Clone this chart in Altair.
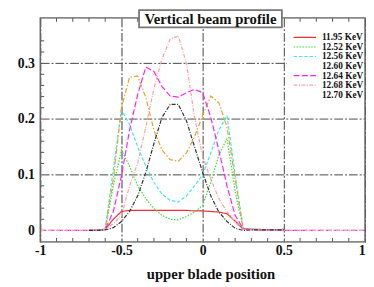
import altair as alt
import pandas as pd

# ---------------- data ----------------
X = [-1.0, -0.7, -0.65, -0.6, -0.55, -0.5, -0.45, -0.4, -0.35, -0.3, -0.25,
     -0.2, -0.15, -0.1, -0.05, 0.0, 0.05, 0.1, 0.15, 0.2, 0.25, 0.3, 0.35,
     0.4, 0.45, 0.5, 1.0]

SERIES = ["11.95 KeV", "12.52 KeV", "12.56 KeV", "12.60 KeV",
          "12.64 KeV", "12.68 KeV", "12.70 KeV"]

E1195 = [None, 0, 0, 0.002, 0.02, 0.034, 0.036, 0.036, 0.036, 0.036, 0.036,
         0.036, 0.036, 0.036, 0.035, 0.035, 0.034, 0.033, 0.03, 0.017, 0.002,
         0.002, 0.001, 0.001, 0.001, 0.002, None]
E1252 = [None, 0, 0, 0.002, 0.08, 0.144, 0.115, 0.08, 0.057, 0.039, 0.027,
         0.02, 0.019, 0.025, 0.033, 0.045, 0.086, 0.135, 0.165, 0.07, 0.003,
         0.002, 0.002, 0.001, 0.001, 0.002, None]
E1256 = [None, 0, 0, 0.003, 0.11, 0.216, 0.19, 0.15, 0.115, 0.086, 0.065,
         0.054, 0.051, 0.062, 0.08, 0.10, 0.139, 0.18, 0.206, 0.1, 0.003,
         0.003, 0.002, 0.001, 0.001, 0.002, None]
E1260 = [None, 0, 0, 0.003, 0.092, 0.22, 0.275, 0.277, 0.238, 0.18, 0.144,
         0.127, 0.124, 0.139, 0.168, 0.206, 0.241, 0.229, 0.185, 0.092, 0.003,
         0.002, 0.002, 0.001, 0.001, 0.002, None]
E1264 = [0, 0, 0, 0.002, 0.034, 0.098, 0.18, 0.244, 0.293, 0.285, 0.258,
         0.241, 0.239, 0.247, 0.253, 0.247, 0.203, 0.144, 0.08, 0.027, 0.003,
         0.002, 0.001, 0.001, 0.001, 0, 0]
E1268 = [0, 0, 0, 0.002, 0.012, 0.027, 0.08, 0.121, 0.185, 0.255, 0.308,
         0.343, 0.349, 0.30, 0.203, 0.133, 0.092, 0.057, 0.034, 0.015, 0.002,
         0.001, 0.001, 0, 0, 0, 0]
E1270 = [None, 0, 0, 0.001, 0.005, 0.016, 0.034, 0.062, 0.104, 0.156, 0.203,
         0.226, 0.226, 0.197, 0.15, 0.104, 0.062, 0.033, 0.016, 0.004, 0.0,
         0.001, 0.001, 0.001, 0.001, 0.001, None]

VALUES = [E1195, E1252, E1256, E1260, E1264, E1268, E1270]
LEGEND_SHOWN = [1, 1, 1, 0, 1, 1, 0]

XTICKS = [-1, -0.5, 0, 0.5, 1]
YTICKS = [0, 0.1, 0.2, 0.3]
XMINOR = [-0.9, -0.8, -0.7, -0.6, -0.4, -0.3, -0.2, -0.1, 0.1, 0.2, 0.3,
          0.4, 0.6, 0.7, 0.8, 0.9]
YMINOR = [0.02, 0.04, 0.06, 0.08, 0.12, 0.14, 0.16, 0.18, 0.22, 0.24,
          0.26, 0.28, 0.32, 0.34]

TITLE = "Vertical beam profile"
XTITLE = "upper blade position"

# ---------------- styles ----------------
COLORS = ["#ee3030", "#30e830", "#40e8e8", "#e8a030", "#ff20ff", "#ffa0a0", "#303030"]
DASHES = [[1, 0], [1.5, 1.5], [3.5, 2], [5, 2, 1.5, 2], [6, 2.5],
          [4, 1.5, 1, 1.5], [4, 1.5, 1, 1.5]]
SERIF = "Liberation Serif"
W, H = 332, 229

rows = []
for name, vals in zip(SERIES, VALUES):
    for xv, yv in zip(X, vals):
        if yv is not None:
            rows.append({"x": xv, "y": yv, "series": name})
df = pd.DataFrame(rows)

x_scale = alt.Scale(domain=[-1, 1], nice=False, zero=False)
y_scale = alt.Scale(domain=[-0.0205, 0.3812], nice=False, zero=False)
color_scale = alt.Scale(domain=SERIES, range=COLORS)
dash_scale = alt.Scale(domain=SERIES, range=DASHES)

x_axis = alt.Axis(
    values=XTICKS, labelExpr="'' + datum.value", domain=False, ticks=False,
    labelFont=SERIF, labelFontWeight="bold", labelFontSize=14, labelColor="#111",
    labelPadding=2, labelFlush=False,
    labelAlign={"condition": {"test": "datum.value == 1", "value": "right"}, "value": "center"},
    grid=True, gridDash=[9, 2, 2, 2],
    gridColor={"condition": {"test": "datum.value == -0.5", "value": "#9a9a9a"}, "value": "#444"},
    gridWidth={"condition": {"test": "datum.value == -0.5", "value": 2}, "value": 1},
    title=XTITLE, titleFont=SERIF, titleFontWeight="bold", titleFontSize=15,
    titleColor="#111", titleX=174, titleY=37, titleBaseline="alphabetic",
    titleAlign="center",
)
y_axis = alt.Axis(
    values=YTICKS, labelExpr="'' + datum.value", domain=False, ticks=False,
    labelFont=SERIF, labelFontWeight="bold", labelFontSize=14, labelColor="#111",
    labelPadding=6, labelFlush=False,
    grid=True, gridDash=[9, 2, 2, 2],
    gridColor={"condition": {"test": "datum.value == 0.2", "value": "#9a9a9a"}, "value": "#444"},
    gridWidth={"condition": {"test": "datum.value == 0.2", "value": 2}, "value": 1},
    gridOpacity={"condition": {"test": "datum.value == 0", "value": 0}, "value": 1},
    title=None,
)

lines = alt.Chart(df).mark_line(strokeWidth=1.2).encode(
    x=alt.X("x:Q", scale=x_scale, axis=x_axis),
    y=alt.Y("y:Q", scale=y_scale, axis=y_axis),
    color=alt.Color("series:N", scale=color_scale, legend=None),
    strokeDash=alt.StrokeDash("series:N", scale=dash_scale, legend=None),
)

xminor_df = pd.DataFrame({"x": XMINOR})
yminor_df = pd.DataFrame({"y": YMINOR})
tick_col = "#555"
bottom_ticks = alt.Chart(xminor_df).mark_rule(color=tick_col, strokeWidth=1).encode(
    x=alt.X("x:Q", scale=x_scale, axis=x_axis), y=alt.value(H - 4), y2=alt.value(H))
top_ticks = alt.Chart(xminor_df).mark_rule(color=tick_col, strokeWidth=1).encode(
    x=alt.X("x:Q", scale=x_scale, axis=x_axis), y=alt.value(0), y2=alt.value(4))
left_ticks = alt.Chart(yminor_df).mark_rule(color=tick_col, strokeWidth=1).encode(
    y=alt.Y("y:Q", scale=y_scale, axis=y_axis), x=alt.value(0), x2=alt.value(4))

one = pd.DataFrame({"t": [TITLE]})
frame = alt.Chart(one).mark_rect(fill="transparent", stroke="#666", strokeWidth=1.5).encode(
    x=alt.value(0), x2=alt.value(W), y=alt.value(0), y2=alt.value(H))

# legend
leg_df = pd.DataFrame({"series": SERIES, "shown": LEGEND_SHOWN})
leg_df["ry"] = [20 + 9.75 * i for i in range(len(SERIES))]
leg_bg = alt.Chart(one).mark_rect(fill="white").encode(
    x=alt.value(252), x2=alt.value(W - 1), y=alt.value(11), y2=alt.value(86))
leg_lines = alt.Chart(leg_df).mark_rule(strokeWidth=1.2).encode(
    x=alt.value(259), x2=alt.value(282),
    y=alt.Y("ry:Q", scale=None),
    color=alt.Color("series:N", scale=color_scale, legend=None),
    strokeDash=alt.StrokeDash("series:N", scale=dash_scale, legend=None),
    opacity=alt.Opacity("shown:Q", scale=None, legend=None),
)
leg_text = alt.Chart(leg_df).mark_text(
    align="left", baseline="middle", font=SERIF, fontWeight="bold",
    fontSize=9.5, color="#111").encode(
    x=alt.value(288), y=alt.Y("ry:Q", scale=None), text="series:N")

title_box = alt.Chart(one).mark_rect(fill="white", stroke="#777", strokeWidth=1.8).encode(
    x=alt.value(101), x2=alt.value(247), y=alt.value(-8), y2=alt.value(9.7))
title_text = alt.Chart(one).mark_text(
    align="center", baseline="alphabetic", font=SERIF, fontWeight="bold",
    fontSize=15, color="#111").encode(
    x=alt.value(174), y=alt.value(5.8), text="t:N")

chart = alt.layer(
    lines, bottom_ticks, top_ticks, left_ticks, frame,
    leg_bg, leg_lines, leg_text, title_box, title_text,
).properties(
    width=W, height=H,
    padding={"left": 33, "top": 7, "right": 1, "bottom": 42},
    autosize=alt.AutoSizeParams(type="none"),
).configure_view(stroke=None).configure(background="white")

chart.save("out.html", embed_options={"renderer": "svg", "actions": False})
